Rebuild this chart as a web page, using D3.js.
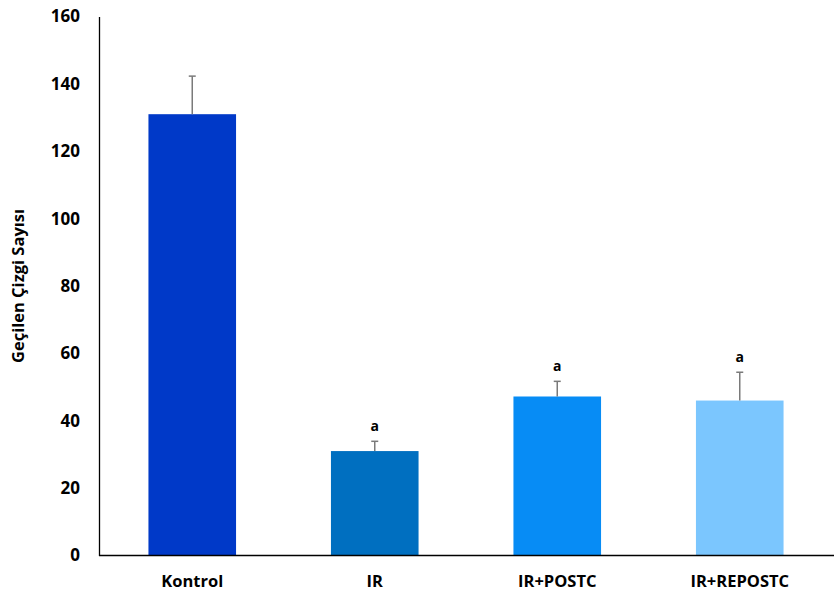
<!DOCTYPE html>
<html>
<head>
<meta charset="utf-8">
<script src="https://cdn.jsdelivr.net/npm/d3@7"></script>
<style>
  html, body { margin: 0; padding: 0; background: #fff; }
  svg { display: block; }
  text { font-family: "Open Sans", Lato, sans-serif; font-weight: bold; fill: #000; }
</style>
</head>
<body>
<svg id="chart" width="834" height="595"></svg>
<script>
// Group names, means, upper error bar ends and significance marks
const categories = ["Kontrol", "IR", "IR+POSTC", "IR+REPOSTC"];
const means = [131, 31, 47.2, 46];
const errorTops = [142.3, 33.9, 51.7, 54.4];
const marks = ["", "a", "a", "a"];
const barColors = ["#0039c8", "#006fc0", "#078cf5", "#7bc6fe"];
const yTicks = [0, 20, 40, 60, 80, 100, 120, 140, 160];
const yTitle = "Geçilen Çizgi Sayısı";

const FONT = "'Open Sans', Lato, sans-serif";
const svg = d3.select("#chart");

const x = d3.scaleBand()
  .domain(categories)
  .range([101, 831])
  .paddingInner(0.52)
  .paddingOuter(0.26);

const y = d3.scaleLinear()
  .domain([0, 160])
  .range([555.5, 16.5]);

// Bars
svg.append("g")
  .selectAll("rect")
  .data(categories)
  .join("rect")
  .attr("x", d => x(d))
  .attr("width", x.bandwidth())
  .attr("y", (d, i) => y(means[i]))
  .attr("height", (d, i) => y(0) - y(means[i]))
  .attr("fill", (d, i) => barColors[i]);

// Upper error bars
const err = svg.append("g").attr("stroke", "#7a7a7a").attr("stroke-width", 1.5);
categories.forEach((d, i) => {
  const cx = x(d) + x.bandwidth() / 2;
  err.append("line")
    .attr("x1", cx).attr("x2", cx)
    .attr("y1", y(means[i])).attr("y2", y(errorTops[i]));
  err.append("line")
    .attr("x1", cx - 3.5).attr("x2", cx + 3.5)
    .attr("y1", y(errorTops[i])).attr("y2", y(errorTops[i]));
});

// Significance letters above the error bars
svg.append("g")
  .selectAll("text")
  .data(categories)
  .join("text")
  .attr("x", d => x(d) + x.bandwidth() / 2)
  .attr("y", (d, i) => y(errorTops[i]) - 10)
  .attr("text-anchor", "middle")
  .attr("font-size", 14)
  .text((d, i) => marks[i]);

// Y axis
const yAxis = svg.append("g")
  .attr("transform", "translate(99,0)")
  .call(d3.axisLeft(y).tickValues(yTicks).tickSize(0).tickPadding(19));
yAxis.select(".domain").attr("stroke", "#000").attr("stroke-width", 1.3);
yAxis.selectAll("text").attr("font-size", 17).style("font-family", FONT).style("font-weight", "bold");

// X axis
const xAxis = svg.append("g")
  .attr("transform", `translate(0,${y(0)})`)
  .call(d3.axisBottom(x).tickSize(0).tickPadding(20));
xAxis.select(".domain").attr("d", "M99,0H834").attr("stroke", "#000").attr("stroke-width", 1.3);
xAxis.selectAll("text").attr("font-size", 16.5).style("font-family", FONT).style("font-weight", "bold");

// Y axis title
svg.append("text")
  .attr("transform", `translate(24,${(y(0) + y(160)) / 2}) rotate(-90)`)
  .attr("text-anchor", "middle")
  .attr("font-size", 16.5)
  .text(yTitle);
</script>
</body>
</html>
